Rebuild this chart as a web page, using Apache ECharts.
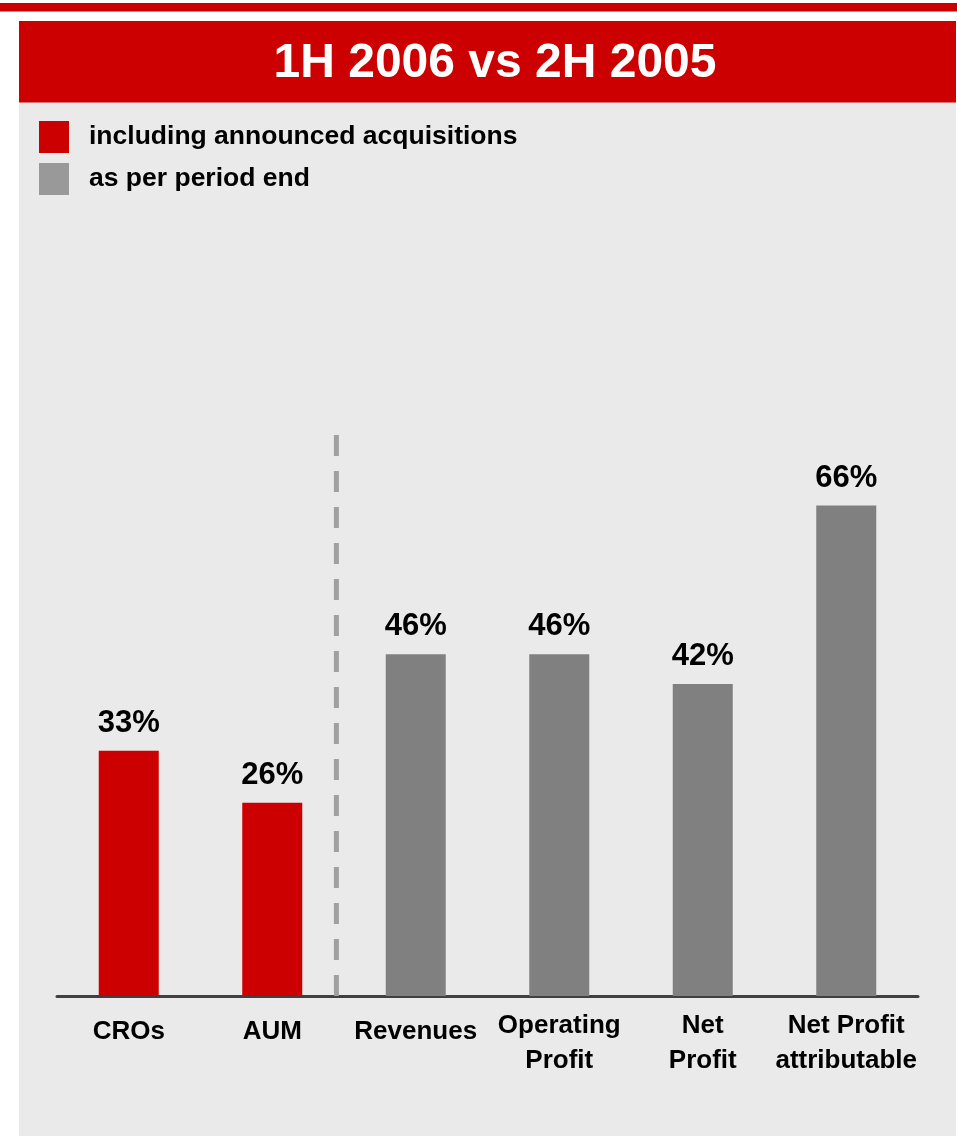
<!DOCTYPE html>
<html>
<head>
<meta charset="utf-8">
<script src="https://cdn.jsdelivr.net/npm/echarts@6/dist/echarts.min.js"></script>
<style>
html,body{margin:0;padding:0;background:#ffffff;}
#c{width:957px;height:1136px;}
</style>
</head>
<body>
<div id="c"></div>
<script>
var titleText = '1H 2006 vs 2H 2005';
var categories = ['CROs', 'AUM', 'Revenues', 'Operating\nProfit', 'Net\nProfit', 'Net Profit\nattributable'];
var seriesNames = ['including announced acquisitions', 'as per period end'];
var acquisitionValues = [33, 26, '-', '-', '-', '-'];
var periodEndValues = ['-', '-', 46, 46, 42, 66];
var dividerX = [1.947, 1.947];
var dividerY = [75.5, 0];

var FONT = '"Liberation Sans", Arial, Helvetica, sans-serif';
var chart = echarts.init(document.getElementById('c'), null, {renderer: 'canvas'});

var labelCfg = {
  show: true,
  position: 'top',
  distance: 12,
  formatter: function (p) { return p.value + '%'; },
  color: '#000000',
  fontFamily: FONT,
  fontWeight: 'bold',
  fontSize: 31
};

chart.setOption({
  backgroundColor: '#ffffff',
  animation: false,
  graphic: [
    {type: 'rect', z: -10, shape: {x: 0, y: 3, width: 957, height: 8.5}, style: {fill: '#CC0000'}, silent: true},
    {type: 'rect', z: -10, shape: {x: 19, y: 102, width: 937, height: 1034}, style: {fill: '#EAEAEA'}, silent: true},
    {type: 'rect', z: -10, shape: {x: 19, y: 21, width: 937, height: 81.5}, style: {fill: '#CC0000'}, silent: true},
    {type: 'text', z: 10, style: {x: 495, y: 64, text: titleText, fill: '#ffffff', font: 'bold 48px ' + FONT, textAlign: 'center', textVerticalAlign: 'middle'}, silent: true}
  ],
  legend: {
    orient: 'vertical',
    left: 34,
    top: 116,
    itemWidth: 30,
    itemHeight: 32,
    itemGap: 10,
    icon: 'rect',
    selectedMode: false,
    textStyle: {color: '#000000', fontFamily: FONT, fontWeight: 'bold', fontSize: 26.5, padding: [5, 0, 0, 15]},
    data: [
      {name: seriesNames[0], itemStyle: {color: '#CC0000'}},
      {name: seriesNames[1], itemStyle: {color: '#999999'}}
    ]
  },
  grid: {left: 57, right: 39, top: 253, bottom: 140, containLabel: false},
  xAxis: [
    {
      type: 'category',
      data: categories,
      axisLine: {show: true, lineStyle: {color: '#404040', width: 3}},
      axisTick: {show: false},
      axisLabel: {
        margin: 12,
        interval: 0,
        verticalAlign: 'top',
        formatter: function (v) {
          var lines = v.split('\n');
          if (lines.length === 1) return '{one|' + v + '}';
          return lines.map(function (l) { return '{two|' + l + '}'; }).join('\n');
        },
        rich: {
          one: {fontFamily: FONT, fontWeight: 'bold', fontSize: 26, color: '#000000', lineHeight: 48},
          two: {fontFamily: FONT, fontWeight: 'bold', fontSize: 26, color: '#000000', lineHeight: 35}
        }
      }
    },
    {type: 'value', min: 0, max: 6, show: false}
  ],
  yAxis: {
    type: 'value',
    min: 0,
    max: 100,
    show: false,
    splitLine: {show: false}
  },
  series: [
    {
      name: seriesNames[0],
      type: 'bar',
      data: acquisitionValues,
      barWidth: 60,
      barGap: '-100%',
      itemStyle: {color: '#CC0000'},
      label: labelCfg,
      z: 3
    },
    {
      name: seriesNames[1],
      type: 'bar',
      data: periodEndValues,
      barWidth: 60,
      barGap: '-100%',
      itemStyle: {color: '#808080'},
      label: labelCfg,
      z: 3
    },
    {
      name: 'divider',
      type: 'line',
      xAxisIndex: 1,
      yAxisIndex: 0,
      data: dividerX.map(function (x, i) { return [x, dividerY[i]]; }),
      symbol: 'none',
      silent: true,
      lineStyle: {color: '#A0A0A0', width: 5, type: [21, 15]},
      z: 1
    }
  ]
});
</script>
</body>
</html>
